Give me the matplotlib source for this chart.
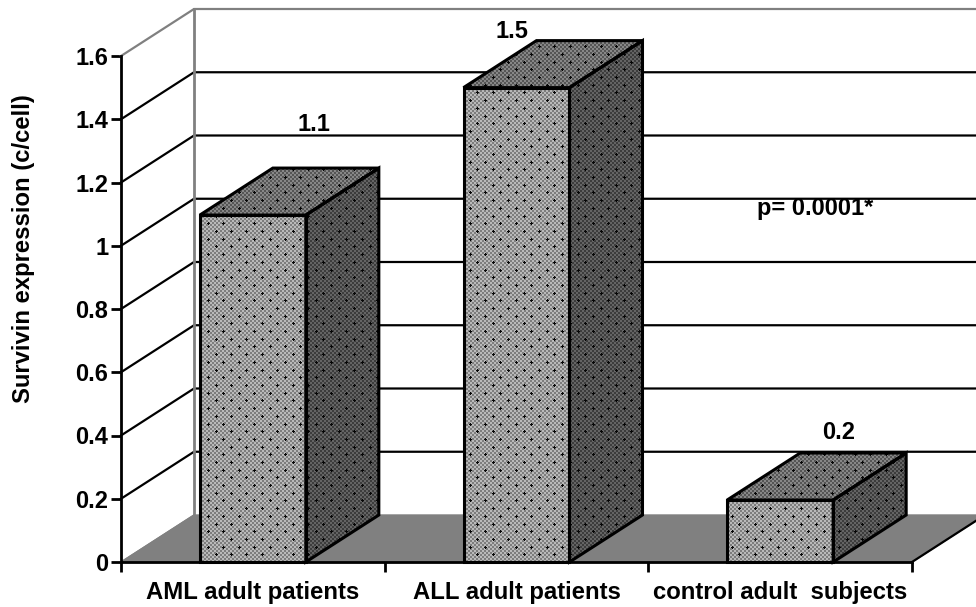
import numpy as np
import matplotlib
matplotlib.use("Agg")
import matplotlib.pyplot as plt
from matplotlib.patches import Polygon

plt.rcParams["font.family"] = ["Liberation Sans", "DejaVu Sans"]
plt.rcParams["font.weight"] = "bold"

categories = ["AML adult patients", "ALL adult patients", "control adult  subjects"]
values = [1.097, 1.5, 0.196]
value_labels = ["1.1", "1.5", "0.2"]
label_x = [0.732, 1.483, 2.723]
label_y = [1.382, 1.679, 0.411]
y_ticks = [0, 0.2, 0.4, 0.6, 0.8, 1.0, 1.2, 1.4, 1.6]
y_tick_labels = ["0", "0.2", "0.4", "0.6", "0.8", "1", "1.2", "1.4", "1.6"]

W, H = 976, 607
bar_width = 0.402
depth_x = 73 / 263.67
depth_y = 47 / 316.25


def texture(light, dark):
    # screen aligned checker with staggered black plus dots, like the old excel fill
    yy, xx = np.mgrid[0:H, 0:W]
    img = np.where((xx // 2 + yy // 2) % 2 == 0, light, dark).astype(float)
    for r in range(2, int(H / 7.7) - 1):
        cy = round(r * 7.7)
        for c in range(1, int(W / 15.4)):
            cx = round((c + 0.5 * (r % 2)) * 15.4)
            img[cy - 1:cy + 2, cx] = 5
            img[cy, cx - 1:cx + 2] = 5
    return img


fig = plt.figure(figsize=(W / 100, H / 100), dpi=100)
ax = fig.add_axes([121 / W, (H - 562) / H, 791 / W, 506 / H])
ax.set_xlim(0, 3)
ax.set_ylim(0, 1.6)

# floor and walls
floor = Polygon([(0, 0), (depth_x, depth_y), (3 + depth_x, depth_y), (3, 0)],
                facecolor="#808080", edgecolor="#808080", lw=1, clip_on=False, zorder=1)
ax.add_patch(floor)
for v in y_ticks[1:]:
    color = "#808080" if v == 1.6 else "black"
    ax.plot([0, depth_x, 3 + depth_x], [v, v + depth_y, v + depth_y],
            color=color, lw=1.6, clip_on=False, zorder=2, solid_joinstyle="miter")
ax.plot([depth_x, depth_x], [depth_y, 1.6 + depth_y], color="#808080", lw=2,
        clip_on=False, zorder=2)
ax.plot([3, 3 + depth_x], [0, depth_y], color="black", lw=1.6, clip_on=False, zorder=2)
ax.plot([0, depth_x], [0, depth_y], color="#808080", lw=1, clip_on=False, zorder=2)

# full canvas extent in data coords, so the fills stay pixel aligned
inv = ax.transData.inverted()
(x0, y0), (x1, y1) = inv.transform([(0, 0), (W, H)])
tex_front = texture(185, 125)
tex_side = texture(100, 60)
tex_top = texture(135, 85)


def face(points, tex):
    patch = Polygon(points, facecolor="none", edgecolor="black", lw=2.2,
                    clip_on=False, zorder=5, joinstyle="miter")
    ax.add_patch(patch)
    im = ax.imshow(tex, cmap="gray", vmin=0, vmax=255, extent=(x0, x1, y0, y1),
                   origin="upper", aspect="auto", interpolation="nearest", zorder=4)
    im.set_clip_box(fig.bbox)
    im.set_clip_path(Polygon(points, transform=ax.transData))


for i, v in enumerate(values):
    l = i + 0.5 - bar_width / 2
    r = i + 0.5 + bar_width / 2
    face([(r, 0), (r + depth_x, depth_y), (r + depth_x, v + depth_y), (r, v)], tex_side)
    face([(l, v), (r, v), (r + depth_x, v + depth_y), (l + depth_x, v + depth_y)], tex_top)
    face([(l, 0), (r, 0), (r, v), (l, v)], tex_front)
    ax.text(label_x[i], label_y[i], value_labels[i], ha="center", va="center",
            fontsize=17, fontweight="bold", zorder=6, clip_on=False)

ax.set_xlim(0, 3)
ax.set_ylim(0, 1.6)

ax.text(2.632, 1.118, "p= 0.0001*", ha="center", va="center", fontsize=17,
        fontweight="bold", zorder=6)

# axes
for s in ["top", "right"]:
    ax.spines[s].set_visible(False)
for s in ["left", "bottom"]:
    ax.spines[s].set_linewidth(2)
    ax.spines[s].set_zorder(7)
ax.patch.set_visible(False)
ax.set_yticks(y_ticks)
ax.set_yticklabels(y_tick_labels, fontsize=17, fontweight="bold")
ax.tick_params(axis="y", length=7, width=2, pad=2)
ax.set_xticks([0, 1, 2, 3])
ax.set_xticklabels([])
ax.tick_params(axis="x", length=7, width=2)
ax.set_xticks([0.5, 1.5, 2.5], minor=True)
ax.set_xticklabels(categories, minor=True, fontsize=17.2, fontweight="bold")
ax.tick_params(axis="x", which="minor", length=0, pad=14)

fig.text(24 / W, 1 - 249 / H, "Survivin expression (c/cell)", rotation=90, ha="center",
         va="center", fontsize=17.2, fontweight="bold")

fig.savefig("out.png", dpi=100)
